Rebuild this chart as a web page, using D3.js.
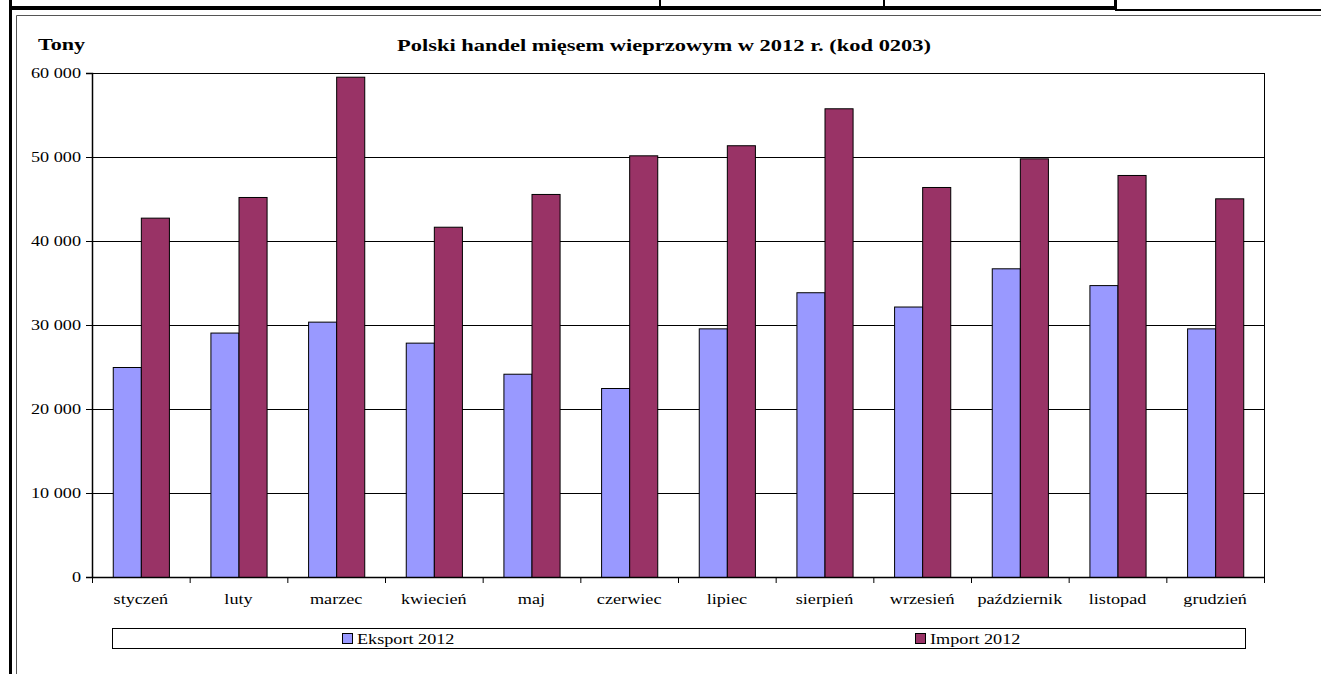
<!DOCTYPE html>
<html>
<head>
<meta charset="utf-8">
<script src="https://cdn.jsdelivr.net/npm/d3@7"></script>
<style>
  body { margin: 0; background: #fff; }
  svg { display: block; }
  svg text { font-family: "Liberation Serif", "DejaVu Serif", "Times New Roman", serif; fill: #000; }
</style>
</head>
<body>
<div id="chart"></div>
<script>
const svgWidth = 1321,
      svgHeight = 674,
      margin = {top: 73, right: 57, bottom: 97, left: 92},
      width = svgWidth - margin.left - margin.right,
      height = svgHeight - margin.top - margin.bottom;

// the source picture is stretched sideways, text too
const stretch = 1.3;

// data (tonnes)
const months = ["styczeń", "luty", "marzec", "kwiecień", "maj", "czerwiec",
                "lipiec", "sierpień", "wrzesień", "październik", "listopad", "grudzień"];
const eksport = [25000, 29100, 30400, 27900, 24200, 22500, 29600, 33900, 32200, 36750, 34750, 29600];
const imports = [42780, 45240, 59560, 41700, 45600, 50200, 51400, 55800, 46430, 49840, 47860, 45080];
const seriesNames = ["Eksport 2012", "Import 2012"];
const seriesColors = ["#9999ff", "#993366"];
const yTicks = [0, 10000, 20000, 30000, 40000, 50000, 60000];

const fmt = v => d3.format(",")(v).replace(/,/g, " ");

let svg = d3.select("#chart")
  .append("svg")
  .attr("width", svgWidth)
  .attr("height", svgHeight);

// remains of the table above the chart
svg.append("line").attr("x1", 10.5).attr("x2", 10.5).attr("y1", 0).attr("y2", svgHeight)
  .attr("stroke", "#000").attr("stroke-width", 3);
svg.append("rect").attr("x", 10).attr("y", 6).attr("width", 1107).attr("height", 4).attr("fill", "#000");
svg.append("rect").attr("x", 1115).attr("y", 9).attr("width", 206).attr("height", 2).attr("fill", "#000");
[660, 884].forEach(x => {
  svg.append("line").attr("x1", x).attr("x2", x).attr("y1", 0).attr("y2", 7)
    .attr("stroke", "#000").attr("stroke-width", 2);
});
svg.append("rect").attr("x", 1114).attr("y", 0).attr("width", 3).attr("height", 10).attr("fill", "#000");
// chart frame
svg.append("line").attr("x1", 16.5).attr("x2", svgWidth).attr("y1", 15.5).attr("y2", 15.5)
  .attr("stroke", "#555").attr("stroke-width", 1);
svg.append("line").attr("x1", 16.5).attr("x2", 16.5).attr("y1", 15.5).attr("y2", svgHeight)
  .attr("stroke", "#555").attr("stroke-width", 1);

let scaleY = d3.scaleLinear().domain([0, 60000]).range([height, 0]),
    scaleX = d3.scaleBand().domain(months).range([0, width]).paddingInner(0).paddingOuter(0),
    scaleS = d3.scaleBand().domain(seriesNames).range([0, scaleX.bandwidth() * 0.575])
      .padding(0);

let g = svg.append("g")
  .attr("transform", "translate(" + margin.left + "," + margin.top + ")");

// gridlines
g.append("g")
  .selectAll("line")
  .data(yTicks.slice(1))
  .enter()
  .append("line")
  .attr("x1", 0)
  .attr("x2", width)
  .attr("y1", d => Math.round(scaleY(d)) + 0.5)
  .attr("y2", d => Math.round(scaleY(d)) + 0.5)
  .attr("stroke", "#000")
  .attr("stroke-width", 1);

// right border of plot
g.append("line")
  .attr("x1", width + 0.5).attr("x2", width + 0.5)
  .attr("y1", 0).attr("y2", height)
  .attr("stroke", "#000");

// bars
let groupOffset = (scaleX.bandwidth() - scaleS.range()[1]) / 2;
let rows = months.map((m, i) => ({month: m, values: [eksport[i], imports[i]]}));

g.append("g")
  .selectAll("g")
  .data(rows)
  .enter()
  .append("g")
  .attr("transform", d => "translate(" + (scaleX(d.month) + groupOffset) + ",0)")
  .selectAll("rect")
  .data(d => d.values.map((v, k) => ({series: seriesNames[k], value: v, k: k})))
  .enter()
  .append("rect")
  .attr("x", d => scaleS(d.series) + 0.5)
  .attr("y", d => scaleY(d.value) + 0.5)
  .attr("width", scaleS.bandwidth())
  .attr("height", d => height - scaleY(d.value))
  .attr("fill", d => seriesColors[d.k])
  .attr("stroke", "#000")
  .attr("stroke-width", 1);

// y axis
let yAxis = g.append("g")
  .call(d3.axisLeft(scaleY).tickValues(yTicks).tickSize(6).tickFormat(fmt));
yAxis.attr("font-family", null);
yAxis.select(".domain").attr("stroke", "#000").attr("stroke-width", 1.5);
yAxis.selectAll("text")
  .style("font-size", "14px")
  .attr("x", -11 / stretch)
  .attr("transform", "scale(" + stretch + ",1)");

// x axis
let xAxis = g.append("g")
  .attr("transform", "translate(0," + height + ")")
  .call(d3.axisBottom(scaleX).tickSize(0).tickFormat(d => d));
xAxis.attr("font-family", null);
xAxis.select(".domain").attr("stroke", "#000").attr("stroke-width", 1.5);
xAxis.selectAll("text")
  .style("font-size", "14px")
  .attr("dy", 0)
  .attr("y", 27)
  .attr("transform", "scale(" + stretch + ",1)");
// category separators
xAxis.append("g")
  .selectAll("line")
  .data(months.concat(["end"]))
  .enter()
  .append("line")
  .attr("x1", (d, i) => i * scaleX.step() + 0.5)
  .attr("x2", (d, i) => i * scaleX.step() + 0.5)
  .attr("y1", 0)
  .attr("y2", 6)
  .attr("stroke", "#000");

// titles
svg.append("text")
  .attr("transform", "translate(38,50) scale(" + stretch + ",1)")
  .style("font-weight", "bold")
  .style("font-size", "17px")
  .text("Tony");

svg.append("text")
  .attr("transform", "translate(664,51) scale(" + stretch + ",1)")
  .attr("text-anchor", "middle")
  .style("font-weight", "bold")
  .style("font-size", "17.3px")
  .text("Polski handel mięsem wieprzowym w 2012 r. (kod 0203)");

// legend
let legend = svg.append("g");
legend.append("rect")
  .attr("x", 112.5).attr("y", 628.5)
  .attr("width", 1133).attr("height", 20)
  .attr("fill", "#fff").attr("stroke", "#000").attr("stroke-width", 1);

let legendX = [342, 915];
seriesNames.forEach((s, i) => {
  legend.append("rect")
    .attr("x", legendX[i] + 0.5).attr("y", 633.5)
    .attr("width", 10).attr("height", 10)
    .attr("fill", seriesColors[i]).attr("stroke", "#000");
  legend.append("text")
    .attr("transform", "translate(" + (legendX[i] + 15) + ",644) scale(" + stretch + ",1)")
    .style("font-size", "14px")
    .text(s);
});
</script>
</body>
</html>
